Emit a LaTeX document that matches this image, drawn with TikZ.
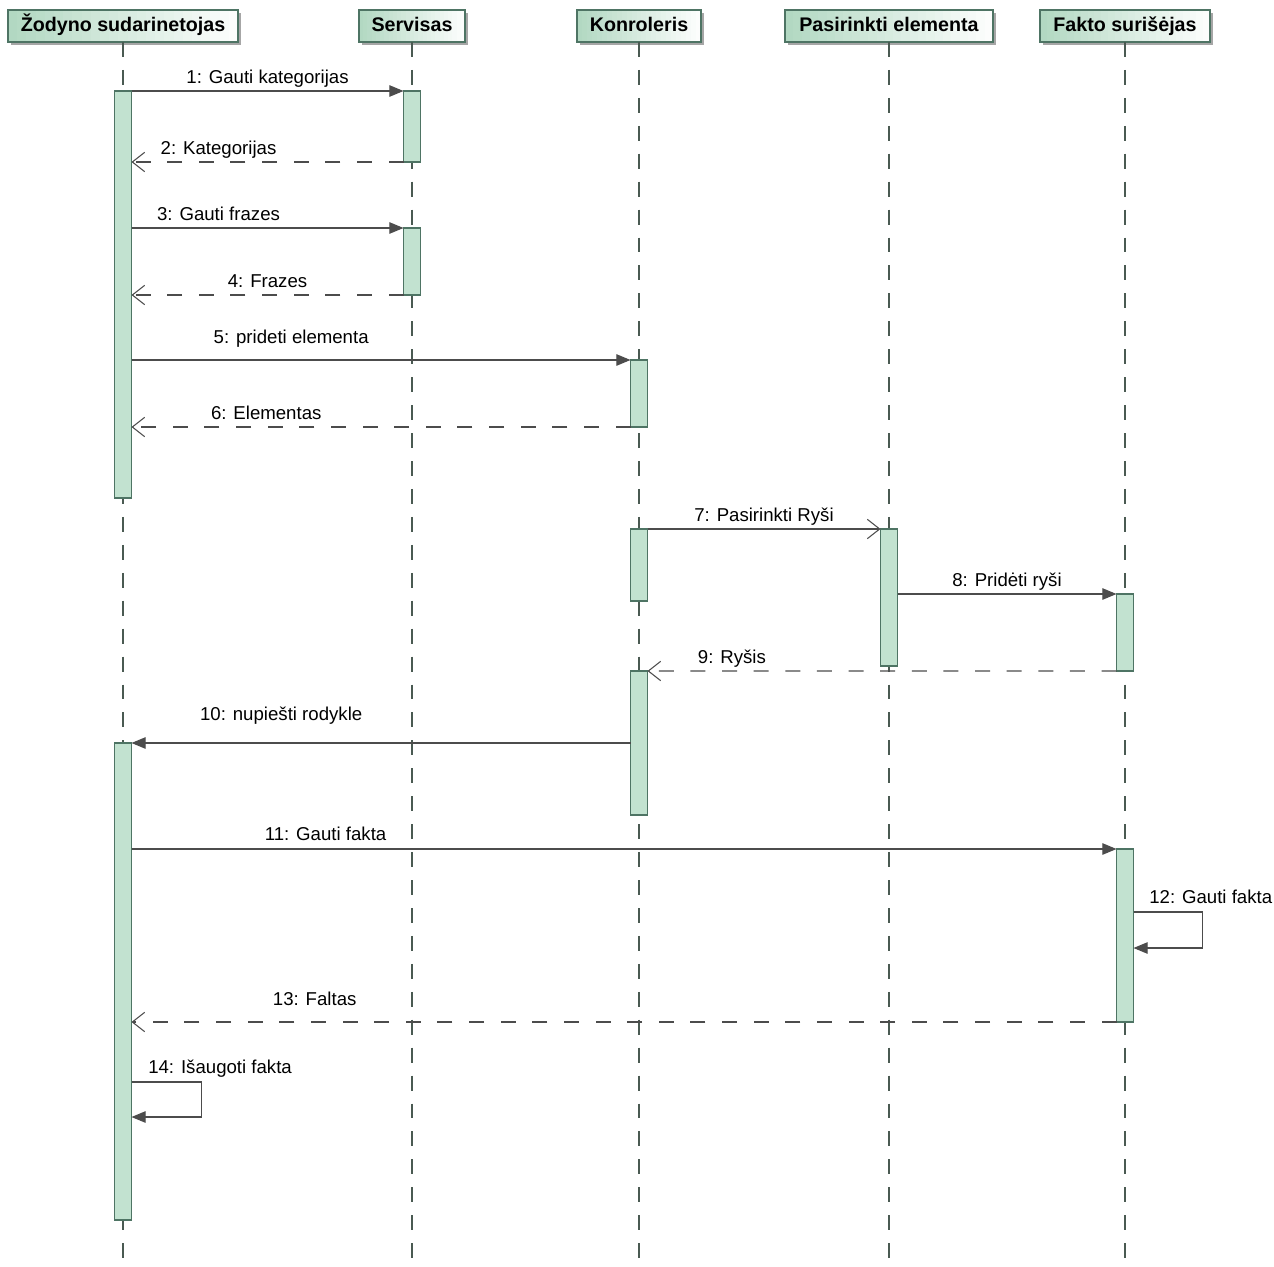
\documentclass[tikz,border=0pt]{standalone}
\usepackage{fontspec}
\setmainfont{Liberation Sans}
\usetikzlibrary{arrows.meta,calc}

\definecolor{actfill}{HTML}{C2E2D0}
\definecolor{actline}{HTML}{4E7464}
\definecolor{headgreen}{HTML}{B2D8C2}
\definecolor{msgline}{HTML}{4C4C4C}
\definecolor{lifeline}{HTML}{4A5A52}

\tikzset{
  head/.style={draw=actline, font=\fontsize{11.2}{13}\selectfont\bfseries,
    minimum height=0.64cm, text height=8.2pt, text depth=2.4pt,
    inner sep=0pt, outer sep=0pt, anchor=north, line width=0.6pt,
    path picture={
      \foreach \i in {0,...,24}{
        \pgfmathtruncatemacro\pct{100-4*\i}
        \pgfmathsetmacro\fa{\i/25}
        \pgfmathsetmacro\fb{(\i+1.1)/25}
        \fill[headgreen!\pct!white]
          ($(path picture bounding box.south west)!\fa!(path picture bounding box.south east)$)
          rectangle
          ($(path picture bounding box.north west)!\fb!(path picture bounding box.north east)$);
      }
    }},
  headshadow/.style={fill=black!35},
  act/.style={draw=actline, fill=actfill, minimum width=0.34cm,
    inner sep=0pt, outer sep=0pt, anchor=north, line width=0.6pt},
  life/.style={draw=lifeline, dash pattern=on 8.5pt off 7.4pt, line width=0.6pt},
  call/.style={draw=msgline, line width=0.6pt, -{Triangle[length=8pt,width=6.5pt]}},
  async/.style={draw=msgline, line width=0.6pt, -{Straight Barb[length=7pt,width=11pt]}},
  reply/.style={draw=msgline, line width=0.6pt, dash pattern=on 8.5pt off 9.5pt,
    -{Straight Barb[length=7pt,width=11pt]}},
  lbl/.style={font=\fontsize{10.6}{12}\selectfont, text height=7.6pt,
    text depth=2.2pt, inner sep=1pt}
}

% lifeline head: name, x, width, text
\newcommand\headnode[4]{%
  \fill[headshadow] ({#2-#3/2+3},13) rectangle ({#2+#3/2+3},45);
  \node[head, minimum width={#3*0.02cm}] (#1) at (#2,10) {#4};}
% activation bar: name, lifeline, top, bottom
\newcommand\actbar[4]{\node[act, minimum height={(#4-#3)*0.02cm}] (#1) at (#2.south |- 0,#3) {};}

\begin{document}
\begin{tikzpicture}[x=0.02cm, y=-0.02cm]
\fill[white] (0,0) rectangle (1274,1267);
\useasboundingbox (0,0) rectangle (1274,1267);

% lifeline heads
\headnode{zod}{123}{230}{Žodyno sudarinetojas}
\headnode{ser}{412}{106}{Servisas}
\headnode{kon}{639}{124}{Konroleris}
\headnode{pas}{889}{208}{Pasirinkti elementa}
\headnode{fak}{1125}{170}{Fakto surišėjas}

\foreach \h in {zod,ser,kon,pas,fak}
  \draw[life] (\h.south) -- (\h.south |- 0,1267);

% activations
\actbar{za1}{zod}{91}{498}
\actbar{za2}{zod}{743}{1220}
\actbar{sa1}{ser}{91}{162}
\actbar{sa2}{ser}{228}{295}
\actbar{ka1}{kon}{360}{427}
\actbar{ka2}{kon}{529}{601}
\actbar{ka3}{kon}{671}{815}
\actbar{pa1}{pas}{529}{666}
\actbar{fa1}{fak}{594}{671}
\actbar{fa2}{fak}{849}{1022}

% messages
\draw[call] (za1.north east) -- node[lbl, above=0.8pt] {1: Gauti kategorijas} (sa1.north west);
\draw[reply] (sa1.south west) -- node[lbl, above=0.8pt, pos=0.68] {2: Kategorijas} (sa1.south west -| za1.east);
\draw[call] (sa2.north west -| za1.east) -- node[lbl, above=0.8pt, pos=0.32] {3: Gauti frazes} (sa2.north west);
\draw[reply] (sa2.south west) -- node[lbl, above=0.8pt] {4: Frazes} (sa2.south west -| za1.east);
\draw[call] (ka1.north west -| za1.east) -- node[lbl, above=6pt, pos=0.32] {5: prideti elementa} (ka1.north west);
\draw[reply] (ka1.south west) -- node[lbl, above=0.8pt, pos=0.73] {6: Elementas} (ka1.south west -| za1.east);
\draw[async] (ka2.north east) -- node[lbl, above=0.8pt] {7: Pasirinkti Ryši} (pa1.north west);
\draw[call] (fa1.north west -| pa1.east) -- node[lbl, above=0.8pt] {8: Pridėti ryši} (fa1.north west);
\draw[reply] (fa1.south west) -- node[lbl, above=0.8pt, pos=0.82] {9: Ryšis} (ka3.north east);
\draw[call] (za2.north east -| ka3.west) -- node[lbl, above=9.5pt, pos=0.7] {10: nupiešti rodykle} (za2.north east);
\draw[call] (fa2.north west -| za2.east) -- node[lbl, above=1.4pt, pos=0.197] {11: Gauti fakta} (fa2.north west);
\draw[call] (fa2.east |- 0,912) -- node[lbl, at start, anchor=south west, xshift=0.27cm, yshift=1.4pt] {12: Gauti fakta}
  ++(69,0) -- ++(0,36) -- (fa2.east |- 0,948);
\draw[reply] (fa2.south west) -- node[lbl, above=6pt, pos=0.814] {13: Faltas} (fa2.south west -| za2.east);
\draw[call] (za2.east |- 0,1082) -- node[lbl, at start, anchor=south west, xshift=0.29cm, yshift=1.4pt] {14: Išaugoti fakta}
  ++(70,0) -- ++(0,35) -- (za2.east |- 0,1117);
\end{tikzpicture}
\end{document}
